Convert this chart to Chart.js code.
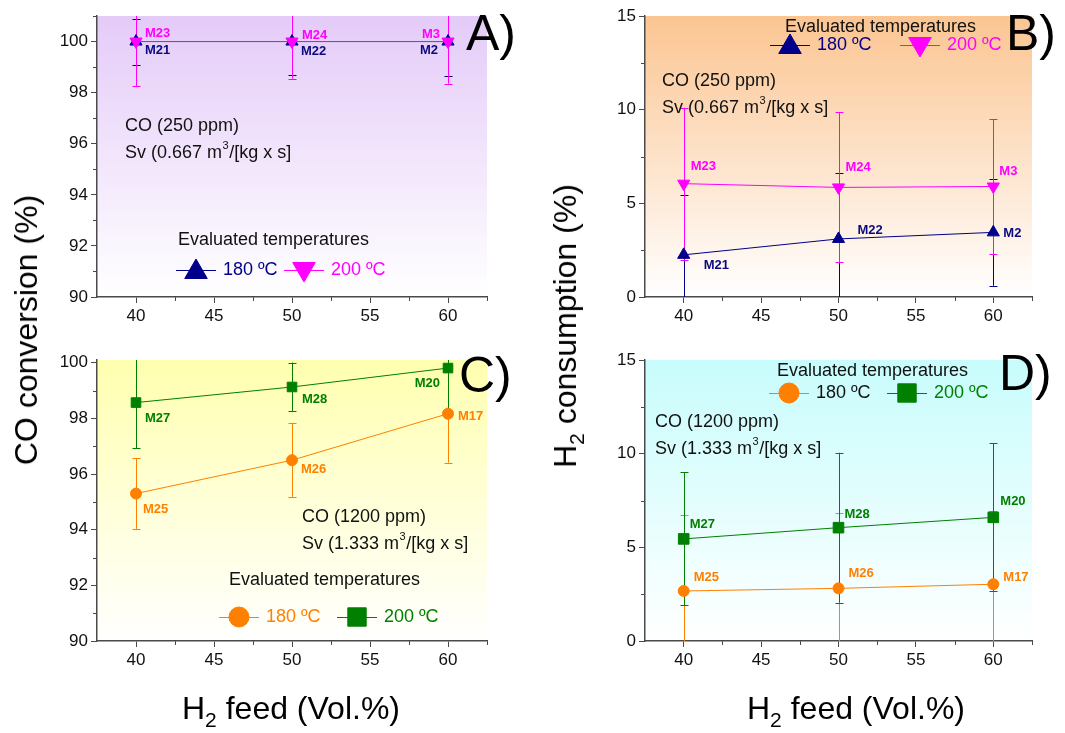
<!DOCTYPE html>
<html>
<head>
<meta charset="utf-8">
<script src="https://cdn.jsdelivr.net/npm/chart.js@4/dist/chart.umd.min.js"></script>
<style>
  body { margin: 0; background: #fff; font-family: "Liberation Sans", Arial, sans-serif; }
  #wrap { position: relative; width: 1065px; height: 733px; overflow: hidden; }
  canvas { position: absolute; }
  .title { position: absolute; font-size: 32px; line-height: 1; white-space: nowrap; color: #000; }
  .title sub { font-size: 21px; vertical-align: -8px; line-height: 0; }
  .rot { transform: translate(-50%, -50%) rotate(-90deg); }
  .hor { transform: translate(-50%, -50%); }
</style>
</head>
<body>
<div id="wrap">
  <canvas id="pA" width="530" height="340" style="left:0;top:0"></canvas>
  <canvas id="pB" width="535" height="340" style="left:530px;top:0"></canvas>
  <canvas id="pC" width="530" height="393" style="left:0;top:340px"></canvas>
  <canvas id="pD" width="535" height="393" style="left:530px;top:340px"></canvas>
  <div class="title rot" style="left:26px;top:330px">CO conversion (%)</div>
  <div class="title rot" style="left:565px;top:326px">H<sub>2</sub> consumption (%)</div>
  <div class="title hor" style="left:291px;top:708px">H<sub>2</sub> feed (Vol.%)</div>
  <div class="title hor" style="left:856px;top:708px">H<sub>2</sub> feed (Vol.%)</div>
</div>
<script>
// x = H2 en la alimentación (Vol.%)
const h2Feed = [40, 50, 60];
const xTicks = [40, 45, 50, 55, 60];
const xMinorTicks = [42.5, 47.5, 52.5, 57.5, 62.5];
const convTicks = [90, 92, 94, 96, 98, 100];
const convMinorA = [91, 93, 95, 97, 99, 101];
const convMinorC = [91, 93, 95, 97, 99];
const h2Ticks = [0, 5, 10, 15];
const h2Minor = [2.5, 7.5, 12.5];

// A) conversión de CO, CO 250 ppm
const convA180 = [100, 100, 100];
const convA180Err = [0.9, 1.3, 1.35];
const convA200 = [100, 100, 100];
const convA200Err = [1.75, 1.45, 1.65];
const namesA180 = ['M21', 'M22', 'M2'];
const namesA200 = ['M23', 'M24', 'M3'];

// B) consumo de H2, CO 250 ppm
const consB180 = [2.25, 3.1, 3.45];
const consB180Err = [3.2, 3.5, 2.85];
const consB200 = [6.05, 5.85, 5.9];
const consB200Err = [4.05, 4.0, 3.6];

// C) conversión de CO, CO 1200 ppm
const convC180 = [95.3, 96.5, 98.17];
const convC180Err = [1.27, 1.32, 1.76];
const convC200 = [98.57, 99.13, 99.81];
const convC200Err = [1.64, 0.88, 1.5];
const namesC180 = ['M25', 'M26', 'M17'];
const namesC200 = ['M27', 'M28', 'M20'];

// D) consumo de H2, CO 1200 ppm
const consD180 = [2.67, 2.81, 3.03];
const consD180Err = [4.06, 4.0, 3.9];
const consD200 = [5.45, 6.05, 6.6];
const consD200Err = [3.55, 4.0, 3.95];

const NAVY = '#00008b', MAGENTA = '#ff00ff', ORANGE = '#ff8000', GREEN = '#008000';
const FONT = '"Liberation Sans", Arial, sans-serif';
const AXIS = '#4a4a4a';

function marker(ctx, style, r, x, y, color) {
  ctx.save();
  ctx.fillStyle = color;
  ctx.strokeStyle = color;
  ctx.lineWidth = 1;
  ctx.beginPath();
  if (style === 'circle') {
    ctx.arc(x, y, r, 0, Math.PI * 2);
  } else if (style === 'rect') {
    const s = r * Math.SQRT1_2;
    ctx.rect(x - s, y - s, 2 * s, 2 * s);
  } else {
    const d = style === 'triangleDown' ? -1 : 1;
    const h = r * Math.sqrt(3) / 2;
    ctx.moveTo(x, y - d * r);
    ctx.lineTo(x + h, y + d * r / 2);
    ctx.lineTo(x - h, y + d * r / 2);
    ctx.closePath();
  }
  ctx.fill();
  ctx.stroke();
  ctx.restore();
}

function svText(ctx, x, y, v) {
  ctx.font = '18px ' + FONT;
  const a = 'Sv (' + v + ' m';
  ctx.fillText(a, x, y);
  const w = ctx.measureText(a).width;
  ctx.font = '11px ' + FONT;
  ctx.fillText('3', x + w + 0.5, y - 7);
  const w3 = ctx.measureText('3').width;
  ctx.font = '18px ' + FONT;
  ctx.fillText('/[kg x s]', x + w + w3 + 1, y);
}

function panelPlugin(cfg) {
  return {
    id: 'panel',
    beforeDraw(chart) {
      const { ctx, chartArea: a } = chart;
      const g = ctx.createLinearGradient(0, a.top, 0, a.bottom);
      g.addColorStop(0, cfg.bg);
      g.addColorStop(1, '#ffffff');
      ctx.save();
      ctx.fillStyle = g;
      ctx.fillRect(a.left, a.top, a.right - a.left, a.bottom - a.top);
      ctx.restore();
    },
    beforeDatasetsDraw(chart) {
      const { ctx, chartArea: a, scales } = chart;
      ctx.save();
      ctx.beginPath();
      ctx.rect(a.left, a.top, a.right - a.left, a.bottom - a.top);
      ctx.clip();
      ctx.lineWidth = 1;
      cfg.series.forEach(s => {
        ctx.strokeStyle = s.color;
        s.y.forEach((v, i) => {
          const px = Math.round(scales.x.getPixelForValue(h2Feed[i])) + 0.5;
          const hi = scales.y.getPixelForValue(v + s.err[i]);
          const lo = scales.y.getPixelForValue(v - s.err[i]);
          ctx.beginPath();
          ctx.moveTo(px, hi); ctx.lineTo(px, lo);
          ctx.moveTo(px - 4, Math.round(hi) + 0.5); ctx.lineTo(px + 4, Math.round(hi) + 0.5);
          ctx.moveTo(px - 4, Math.round(lo) + 0.5); ctx.lineTo(px + 4, Math.round(lo) + 0.5);
          ctx.stroke();
        });
      });
      ctx.restore();
    },
    afterDatasetsDraw(chart) {
      const { ctx, scales } = chart;
      ctx.save();
      ctx.font = 'bold 13px ' + FONT;
      ctx.textBaseline = 'middle';
      cfg.series.forEach(s => {
        ctx.fillStyle = s.labelColor;
        s.y.forEach((v, i) => {
          const [dx, dy, al] = s.nameOff[i];
          ctx.textAlign = al;
          ctx.fillText(s.names[i], scales.x.getPixelForValue(h2Feed[i]) + dx,
                       scales.y.getPixelForValue(v) + dy);
        });
      });
      ctx.restore();
    },
    afterDraw(chart) {
      const { ctx, chartArea: a, scales } = chart;
      ctx.save();
      // marcas menores
      ctx.strokeStyle = AXIS;
      ctx.lineWidth = 1;
      ctx.beginPath();
      xMinorTicks.forEach(v => {
        const px = Math.round(scales.x.getPixelForValue(v)) + 0.5;
        ctx.moveTo(px, a.bottom); ctx.lineTo(px, a.bottom + 4);
      });
      cfg.yMinor.forEach(v => {
        const py = Math.round(scales.y.getPixelForValue(v)) + 0.5;
        ctx.moveTo(a.left, py); ctx.lineTo(a.left - 4, py);
      });
      ctx.stroke();

      // condiciones
      ctx.fillStyle = '#111';
      ctx.textAlign = 'left';
      ctx.textBaseline = 'middle';
      ctx.font = '18px ' + FONT;
      ctx.fillText(cfg.coText, cfg.textPos[0], cfg.textPos[1]);
      svText(ctx, cfg.textPos[0], cfg.textPos[1] + 27, cfg.sv);

      // leyenda
      const L = cfg.legend;
      ctx.fillStyle = '#111';
      ctx.fillText('Evaluated temperatures', L.title[0], L.title[1]);
      cfg.series.forEach((s, k) => {
        const x0 = L.items[k];
        const y0 = L.y;
        ctx.strokeStyle = s.color;
        ctx.lineWidth = 1;
        ctx.beginPath();
        ctx.moveTo(x0, y0 + 0.5); ctx.lineTo(x0 + 40, y0 + 0.5);
        ctx.stroke();
        marker(ctx, s.style, s.legendR, x0 + 20, y0 + (s.style === 'triangle' ? 2 : s.style === 'triangleDown' ? -1 : 0), s.color);
        ctx.fillStyle = s.textColor || s.color;
        ctx.font = '18px ' + FONT;
        ctx.fillText(s.name, x0 + 47, y0);
      });

      // letra del panel
      ctx.fillStyle = '#000';
      ctx.font = '50px ' + FONT;
      ctx.textBaseline = 'alphabetic';
      ctx.fillText(cfg.letter, cfg.letterPos[0], cfg.letterPos[1]);
      ctx.restore();
    }
  };
}

function makePanel(id, cfg) {
  const cv = document.getElementById(id);
  const W = cv.width, H = cv.height, ar = cfg.area;
  const datasets = cfg.series.slice().reverse().map(s => ({
    label: s.name,
    data: s.y.map((v, i) => ({ x: h2Feed[i], y: v })),
    borderColor: s.color,
    backgroundColor: s.color,
    borderWidth: 1,
    tension: 0,
    pointStyle: s.style === 'triangleDown' ? 'triangle' : s.style,
    rotation: s.style === 'triangleDown' ? 180 : 0,
    pointRadius: s.r,
    pointBorderWidth: 1,
    clip: false
  }));
  const tickFont = { family: FONT, size: 17 };
  new Chart(cv.getContext('2d'), {
    type: 'line',
    data: { datasets },
    options: {
      responsive: false,
      animation: false,
      devicePixelRatio: 1,
      layout: { padding: { left: 0, top: ar.t, right: W - ar.r, bottom: 0 } },
      plugins: { legend: { display: false }, tooltip: { enabled: false } },
      scales: {
        x: {
          type: 'linear', min: 37.5, max: 62.5,
          afterBuildTicks: sc => { sc.ticks = xTicks.map(v => ({ value: v })); },
          afterFit: sc => { sc.height = H - ar.b; },
          ticks: { font: tickFont, color: '#111', padding: 3, autoSkip: false, maxRotation: 0 },
          grid: { drawOnChartArea: false, tickLength: 6, color: AXIS, lineWidth: 1 },
          border: { color: AXIS, width: 1.5 }
        },
        y: {
          type: 'linear', min: cfg.yMin, max: cfg.yMax,
          afterBuildTicks: sc => { sc.ticks = cfg.yTicks.map(v => ({ value: v })); },
          afterFit: sc => { sc.width = ar.l; },
          ticks: { font: tickFont, color: '#111', padding: 3, autoSkip: false },
          grid: { drawOnChartArea: false, tickLength: 6, color: AXIS, lineWidth: 1 },
          border: { color: AXIS, width: 1.5 }
        }
      }
    },
    plugins: [panelPlugin(cfg)]
  });
}

makePanel('pA', {
  area: { l: 97, t: 16, r: 487, b: 297 },
  yMin: 90, yMax: 101, yTicks: convTicks, yMinor: convMinorA,
  bg: '#e4cbf8', letter: 'A)', letterPos: [466, 50],
  coText: 'CO (250 ppm)', sv: '0.667', textPos: [125, 126],
  legend: { title: [178, 240], items: [176, 284], y: 270 },
  series: [
    { name: '180 ºC', y: convA180, err: convA180Err, color: NAVY, labelColor: '#0a0a80', style: 'triangle', r: 7, legendR: 13,
      names: namesA180, nameOff: [[9, 9, 'left'], [9, 10, 'left'], [-10, 9, 'right']] },
    { name: '200 ºC', y: convA200, err: convA200Err, color: MAGENTA, labelColor: MAGENTA, style: 'triangleDown', r: 7, legendR: 13,
      names: namesA200, nameOff: [[9, -8, 'left'], [10, -6, 'left'], [-8, -7, 'right']] }
  ]
});

makePanel('pB', {
  area: { l: 115, t: 16, r: 502, b: 297 },
  yMin: 0, yMax: 15, yTicks: h2Ticks, yMinor: h2Minor,
  bg: '#fbc592', letter: 'B)', letterPos: [476, 50],
  coText: 'CO (250 ppm)', sv: '0.667', textPos: [132, 81],
  legend: { title: [255, 27], items: [240, 370], y: 45 },
  series: [
    { name: '180 ºC', y: consB180, err: consB180Err, color: NAVY, labelColor: '#0a0a80', style: 'triangle', r: 7, legendR: 13,
      names: namesA180, nameOff: [[20, 11, 'left'], [19, -9, 'left'], [10, 1, 'left']] },
    { name: '200 ºC', y: consB200, err: consB200Err, color: MAGENTA, labelColor: MAGENTA, style: 'triangleDown', r: 7, legendR: 13,
      names: namesA200, nameOff: [[7, -17, 'left'], [7, -20, 'left'], [6, -15, 'left']] }
  ]
});

makePanel('pC', {
  area: { l: 97, t: 20, r: 487, b: 301 },
  yMin: 90, yMax: 100.1, yTicks: convTicks, yMinor: convMinorC,
  bg: '#ffffb0', letter: 'C)', letterPos: [459, 52],
  coText: 'CO (1200 ppm)', sv: '1.333', textPos: [302, 177],
  legend: { title: [229, 240], items: [219, 337], y: 277 },
  series: [
    { name: '180 ºC', y: convC180, err: convC180Err, color: ORANGE, labelColor: ORANGE, style: 'circle', r: 5.5, legendR: 10,
      names: namesC180, nameOff: [[7, 16, 'left'], [9, 9, 'left'], [10, 3, 'left']] },
    { name: '200 ºC', y: convC200, err: convC200Err, color: GREEN, labelColor: GREEN, style: 'rect', r: 6.8, legendR: 13,
      names: namesC200, nameOff: [[9, 16, 'left'], [10, 12, 'left'], [-8, 15, 'right']] }
  ]
});

makePanel('pD', {
  area: { l: 115, t: 20, r: 502, b: 301 },
  yMin: 0, yMax: 15, yTicks: h2Ticks, yMinor: h2Minor,
  bg: '#c8fcfc', letter: 'D)', letterPos: [469, 50],
  coText: 'CO (1200 ppm)', sv: '1.333', textPos: [125, 82],
  legend: { title: [247, 31], items: [239, 357], y: 53 },
  series: [
    { name: '180 ºC', y: consD180, err: consD180Err, color: ORANGE, labelColor: ORANGE, textColor: '#111', style: 'circle', r: 5.5, legendR: 10,
      names: namesC180, nameOff: [[10, -14, 'left'], [10, -15, 'left'], [10, -7, 'left']] },
    { name: '200 ºC', y: consD200, err: consD200Err, color: GREEN, labelColor: GREEN, style: 'rect', r: 7.5, legendR: 13,
      names: namesC200, nameOff: [[6, -14, 'left'], [6, -13, 'left'], [7, -16, 'left']] }
  ]
});
</script>
</body>
</html>
